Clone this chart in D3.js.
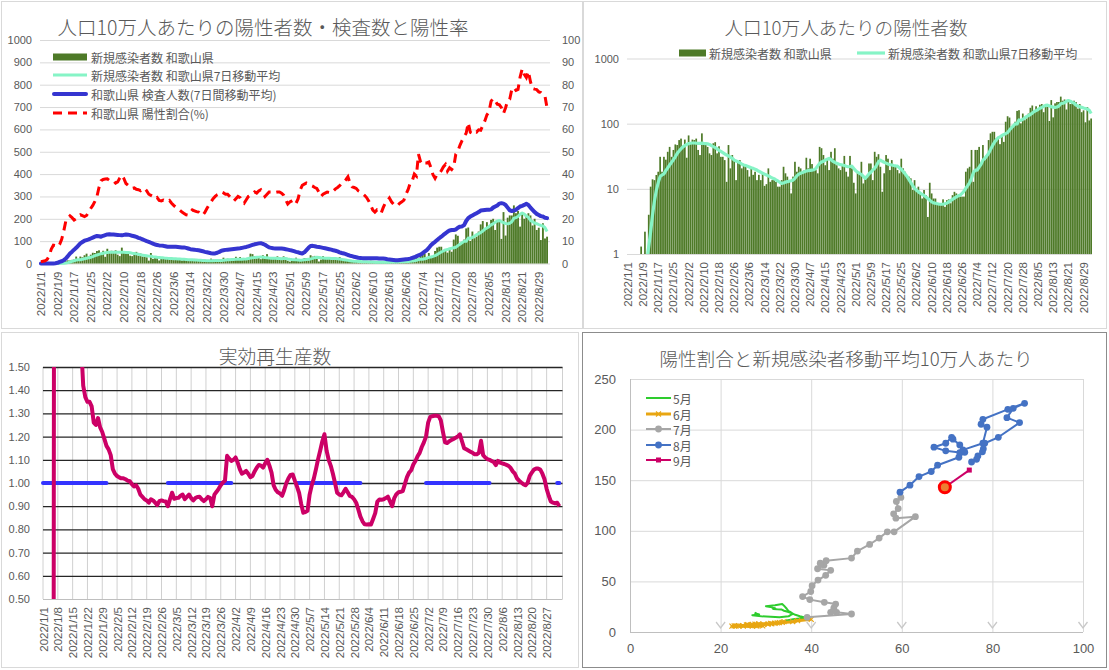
<!DOCTYPE html>
<html><head><meta charset="utf-8">
<script src="https://cdn.jsdelivr.net/npm/d3@7"></script>
<style>
html,body{margin:0;padding:0;background:#fff;}
svg{display:block;}
</style></head>
<body>
<svg id="chart" width="1109" height="670"></svg>
<script>
// ---------------- DATA ----------------
const startLabel = "2022/1/1";
// new cases per 100k (daily)
const newCases = [
 0,0,0,0,0,0,0,1.3,0,2.2,0,4.0,10.8,14,13.6,16.3,18.3,31,18.3,31,28,37,44,31,39.5,48,47,56,59,45,57,
 30,66,52,57,56,59,39.5,33,71,52,50,44,35,33,50,52,35,45,31,31,27.6,12.8,47,20.6,33,27,13.6,26,
 27.6,20.6,24,21.8,19.4,15.4,20.6,16.4,18.3,13.6,16.4,13.6,17.3,11.1,11.8,20.6,12.8,13.6,14.5,12.8,10.8,10.8,13.6,21.8,17.3,15.4,12.8,8.5,15.4,26,18.3,
 21.8,20.6,17.3,19.4,30,20.6,29,24,19.4,19.4,17.3,44,42,33,23,29,19.4,37,29,42,23,20.6,19.4,22.4,32,18.3,15.4,32,20.6,12.4,
 8.5,17.7,17.3,26,12.1,14.5,15.4,24.5,24.5,13.6,37,31,34,21.8,9.0,17.3,33,29,19.4,27.6,21.8,21.8,19.4,17.3,29,20.6,18.3,15.4,15.4,14.5,9.6,
 13.6,9.6,10.8,8.5,7.1,9.6,8.0,3.7,12.4,8.5,7.1,7.1,6.0,6.0,5.6,6.9,5.3,6.7,6.9,6.0,8.0,9.0,8.5,8.0,7.6,7.6,7.6,18.3,20.6,21.8,
 39.5,12.8,39.5,39.5,44,23,47,27.6,33,56,71,75,75,59,59,48.5,67,52.5,107,130,124,90,95,107,157,161,101,143,113,120,143,
 175,190,150,185,160,195,200,150,190,195,110,230,125,205,215,215,260,225,235,165,225,200,210,225,215,170,200,150,160,105,180,
 112,120
];
// 7-day moving average of new cases per 100k
const avg7 = [
 0,0,0,0,0,0,0,0.2,0.2,0.5,0.8,1.3,2.2,4.0,6.5,9.5,12.5,15.5,16.3,17,19,21,23.2,25.5,28,31,35,38,41,44,46,
 48,49.5,50,50.5,50.5,50.2,50,50,50.2,49.8,49.5,49,48,46,44.5,43,41,39,37.5,36,34.5,33,32,30.5,29.5,27.6,26.8,26,
 25.2,24,23.2,22.8,22.2,21.6,21,20.6,20,19.4,18.6,18,17.3,16.8,16.3,15.8,15.2,14.7,14.3,13.7,13.2,12.6,12.1,12.3,12.7,12.9,13.1,13.3,13.6,14.5,15.8,
 16.8,17.3,17.8,18.3,18.8,19,19.2,19.4,19.6,20.5,22.5,24.6,25.8,26.5,27.5,28.5,29.3,28,26.5,25.5,24.6,24,23.5,23.2,22.8,22.2,21.8,22,22.3,20.5,
 19,18,17.3,16.6,15.5,14.5,15.5,17,18,19.5,20.6,23,26,27.6,26.5,25.5,24.8,24,23.5,23.2,22.8,22.5,22.3,21,20,18.5,17,15.5,14,12.5,11.2,
 10.2,9.5,9.0,8.6,8.2,7.9,7.5,7.1,6.7,6.3,6.1,6.0,5.9,5.8,5.8,5.8,5.9,6.0,6.3,6.6,6.9,7.2,7.5,7.8,8.0,8.5,9.2,10.2,11.2,12.5,
 14.5,17.8,19.4,19.4,21.5,23.7,27.6,29.3,32,35,40,45.7,51.3,56,60.9,62.5,66,68,70.5,73,80,86.5,92.8,99,99,114,112.5,116.8,122,129,133,
 138.2,145.1,153.6,158.6,164.8,172.7,177.6,184.9,190.5,192.4,186.5,182.6,179,177.3,180,186.5,202.3,205.3,210.2,220,226,221,211.8,206.9,192.4,186.5,181,178,174,170.6,168,
 160,143
];
// tests per 100k (7-day moving average)
const tests7 = [
 0,0,0,0,0,0,0,1,3,7,10,15,22,33,45,53,62,70,80,90,96,102,105,108,112,116,120,123,122,120,124,
 127,130,131,130,130,129,128,127,126,128,130,129,127,124,122,119,115,112,108,104,100,97,93,89,85,83,81,80,
 79,77,75,75,75,75,75,74,73,72,72,70,67,64,63,62,60,59,57,55,52,50,48,46,45,45,48,52,57,59,61,
 62,63,64,65,66,67,68,70,72,74,77,80,83,86,88,90,91,88,84,78,72,70,68,67,67,67,67,66,64,62,
 60,58,55,52,50,47,45,50,60,70,78,79,77,75,74,72,70,68,66,64,62,59,57,54,50,47,45,42,38,35,33,
 30,28,26,25,24,24,24,24,24,24,23,23,22,22,22,21,19,18,17,16,15,15,16,17,18,19,20,22,25,28,
 32,36,40,46,53,60,70,82,90,97,105,113,120,128,135,142,148,150,150,152,160,165,166,172,190,203,210,215,220,225,230,
 237,238,239,240,240,242,250,255,260,268,270,268,262,250,238,235,237,240,248,255,258,262,267,262,250,240,230,222,217,212,210,
 205,203
];
// positivity rate (%)
const posRate = [
 0.8,1.0,1.2,1.8,3.5,6.5,8.2,8.0,7.4,8.5,10.8,14.5,19.0,20.2,21.3,20.5,19.4,20.0,21.2,21.8,21.4,21.0,21.5,23.0,24.6,26.0,27.8,30.0,34.0,37.0,37.6,
 37.8,37.9,37.2,36.8,37.0,36.0,36.5,38.2,39.5,38.0,35.8,35.0,34.5,33.6,33.8,33.2,33.0,32.6,33.4,33.6,32.5,31.0,30.5,30.0,29.0,29.5,28.2,28.0,
 28.4,28.0,27.6,28.2,27.0,26.0,25.2,24.6,23.8,23.0,22.4,21.8,21.6,22.8,24.0,23.6,23.2,23.0,22.0,21.6,22.8,24.6,26.2,27.6,29.0,30.0,30.8,31.2,32.0,31.6,31.0,
 31,30,29,28,29,30,29.5,28,27,28.5,30,30.6,31,32,31.5,32.5,33,31.5,30,31,32,32,32.2,31.8,32,32,31.5,30.6,28.5,26.6,
 27.5,28,28.5,27,29,33,35,35.5,36,35.5,35,34.6,34,33.6,32,30,31,31.5,32,31.8,31.6,32.5,33.4,34,34.8,35.8,36.5,37.5,38.8,36,34.3,
 34,33.6,32.5,32,31.3,30.5,29.5,28,26,23.9,23,24,23.4,22.5,25,27,28,29.3,27.6,26.5,25.7,26,27,27.6,28.4,31,33,35.9,37,40,
 39.1,48.9,45.6,44.3,45,45,45.4,42.9,39.7,38.1,39.9,40.2,41.5,43.2,44.3,41.4,42.8,42,43.3,48.9,50.2,52.9,55,56.8,58.3,63,58.7,58.2,59.2,58.8,59.8,
 59.6,61.8,63.8,66.5,67.9,72.6,73.9,72.8,71.3,71,69.7,67.1,69.7,72.8,73.5,77.9,78.8,77.5,77.9,83.4,87.1,84.6,83.2,86,81.3,78.3,78,77.8,76.8,76.5,75.4,
 74.9,69.5
];
// effective reproduction number
const rt = [
 0,0,0,0,0,0,9.0,7.5,6.0,4.8,4.0,3.4,3.0,2.6,2.3,2.05,1.85,1.7,1.6,1.42,1.37,1.35,1.35,1.33,1.26,1.25,1.28,1.24,1.22,1.19,1.16,
 1.145,1.12,1.06,1.04,1.03,1.024,1.02,1.02,1.016,1.01,1.008,0.995,0.985,0.99,0.975,0.95,0.94,0.93,0.925,0.915,0.93,0.925,0.915,0.905,0.922,0.925,0.922,0.92,
 0.9,0.93,0.958,0.932,0.935,0.936,0.945,0.95,0.93,0.94,0.95,0.935,0.925,0.935,0.94,0.941,0.93,0.922,0.93,0.94,0.935,0.9,0.95,0.962,0.975,0.99,1.002,1.01,1.117,1.105,1.095,
 1.1,1.11,1.088,1.06,1.04,1.045,1.052,1.04,1.025,1.03,1.05,1.066,1.078,1.075,1.066,1.085,1.1,1.075,1.045,0.99,0.97,0.96,0.955,0.945,0.97,1.0,1.02,1.035,1.037,1.01,
 0.985,0.958,0.91,0.872,0.875,0.88,0.95,0.99,1.02,1.06,1.103,1.14,1.18,1.21,1.14,1.1,1.074,1.04,1.0,0.958,0.95,0.947,0.96,0.975,0.96,0.944,0.94,0.93,0.915,0.886,0.855,
 0.835,0.822,0.821,0.822,0.821,0.845,0.87,0.92,0.929,0.928,0.93,0.935,0.941,0.92,0.9,0.935,0.952,0.96,0.962,0.965,0.995,1.025,1.045,1.055,1.08,1.095,1.115,1.13,1.155,1.175,
 1.2,1.26,1.285,1.288,1.29,1.29,1.288,1.27,1.22,1.175,1.172,1.18,1.185,1.19,1.195,1.2,1.21,1.18,1.15,1.145,1.14,1.135,1.13,1.124,1.124,1.13,1.182,1.12,1.11,1.103,1.1,
 1.095,1.09,1.077,1.095,1.088,1.085,1.082,1.078,1.074,1.065,1.05,1.04,1.02,1.01,1.002,0.995,0.99,1.0,1.03,1.045,1.058,1.062,1.062,1.058,1.04,1.016,0.975,0.945,0.92,0.915,0.912,
 0.915,0.9
];
// tick labels
const ticks8 = ["2022/1/1","2022/1/9","2022/1/17","2022/1/25","2022/2/2","2022/2/10","2022/2/18","2022/2/26","2022/3/6","2022/3/14","2022/3/22","2022/3/30","2022/4/7","2022/4/15","2022/4/23","2022/5/1","2022/5/9","2022/5/17","2022/5/25","2022/6/2","2022/6/10","2022/6/18","2022/6/26","2022/7/4","2022/7/12","2022/7/20","2022/7/28","2022/8/5","2022/8/13","2022/8/21","2022/8/29"];
const ticks7 = ["2022/1/1","2022/1/8","2022/1/15","2022/1/22","2022/1/29","2022/2/5","2022/2/12","2022/2/19","2022/2/26","2022/3/5","2022/3/12","2022/3/19","2022/3/26","2022/4/2","2022/4/9","2022/4/16","2022/4/23","2022/4/30","2022/5/7","2022/5/14","2022/5/21","2022/5/28","2022/6/4","2022/6/11","2022/6/18","2022/6/25","2022/7/2","2022/7/9","2022/7/16","2022/7/23","2022/7/30","2022/8/6","2022/8/13","2022/8/20","2022/8/27"];
const leftTicks1 = [0,100,200,300,400,500,600,700,800,900,1000];
const rightTicks1 = [0,10,20,30,40,50,60,70,80,90,100];
const logTicks = [1,10,100,1000];
const rtTicks = [0.5,0.6,0.7,0.8,0.9,1.0,1.1,1.2,1.3,1.4,1.5];
const scatterXTicks = [0,20,40,60,80,100];
const scatterYTicks = [0,50,100,150,200,250];
// reference line at Rt = 1 (odd months)
const refStarts = ["2022/1/1","2022/3/1","2022/5/1","2022/7/1","2022/9/1"];
const refEnds = ["2022/1/31","2022/3/31","2022/5/31","2022/7/31","2022/9/2"];
const refValue = 1.0;
// scatter months
const monthNames = ["5月","6月","7月","8月","9月"];
const monthStarts = ["2022/5/1","2022/6/1","2022/7/1","2022/8/1","2022/9/1"];
const monthEnds = ["2022/5/31","2022/6/30","2022/7/31","2022/8/31","2022/9/2"];
const monthColors = ["#2ecc2e","#e8a612","#a6a6a6","#4472c4","#cc0066"];
const monthMarkers = ["none","cross","circle","circle","square"];
const titles = ["人口10万人あたりの陽性者数・検査数と陽性率","人口10万人あたりの陽性者数","実効再生産数","陽性割合と新規感染者移動平均10万人あたり"];
const legend1 = ["新規感染者数 和歌山県","新規感染者数 和歌山県7日移動平均","和歌山県 検査人数(7日間移動平均)","和歌山県 陽性割合(%)"];

// ---------------- DRAW ----------------
const svg = d3.select("#chart");
const parse = d3.timeParse("%Y/%m/%d");
const t0 = parse(startLabel);
const dayOf = s => d3.timeDay.count(t0, parse(s));
const N = newCases.length;
const idx = d3.range(N);
const TXT = "#595959";
const JP = "'Noto Sans CJK JP','Noto Sans',sans-serif";
const NUM = "'Liberation Sans',Arial,sans-serif";
const BAR = "#4e7a28", AQUA = "#86f4c6", BLUE = "#3535d0", RED = "#ff0000", MAG = "#cc0066";

function frame(x,y,w,h,stroke){
  svg.append("rect").attr("x",x).attr("y",y).attr("width",w).attr("height",h)
    .attr("fill","#fff").attr("stroke",stroke).attr("stroke-width",1);
}
function title(x,y,t,size){
  svg.append("text").attr("x",x).attr("y",y).attr("text-anchor","middle")
    .attr("dominant-baseline","central").attr("font-family",JP).attr("font-size",size)
    .attr("font-weight",300).attr("fill",TXT).text(t);
}
function styleAxis(g,fs){
  g.select(".domain").remove();
  g.selectAll(".tick text").attr("font-family",NUM).attr("font-size",fs).attr("fill",TXT);
}
function rotLabels(g){
  g.selectAll(".tick text").attr("transform","rotate(-90)").attr("text-anchor","end")
    .attr("x",-8).attr("y",0).attr("dy","0.35em");
}
function legText(x,y,t,fs){
  svg.append("text").attr("x",x).attr("y",y).attr("dominant-baseline","central")
    .attr("font-family",JP).attr("font-size",fs).attr("fill",TXT).text(t);
}

// ===== Panel 1 =====
frame(1.5,1.5,581,327,"#d9d9d9");
title(263,26,titles[0],19.5);
const x1 = d3.scaleBand().domain(idx).range([40,548]).paddingInner(0.1);
const c1 = i => x1(i) + x1.bandwidth()/2;
const y1 = d3.scaleLinear().domain([0,1000]).range([263.5,40]);
const y1r = d3.scaleLinear().domain([0,100]).range([263.5,40]);
{
  const gl = svg.append("g").attr("transform","translate(40,0)")
    .call(d3.axisLeft(y1).tickValues(leftTicks1).tickSize(-510).tickPadding(8).tickFormat(d3.format("d")));
  gl.selectAll(".tick line").attr("stroke","#d9d9d9");
  styleAxis(gl,11);
  const gr = svg.append("g").attr("transform","translate(550,0)")
    .call(d3.axisRight(y1r).tickValues(rightTicks1).tickSize(0).tickPadding(12).tickFormat(d3.format("d")));
  styleAxis(gr,11);
  const gx = svg.append("g").attr("transform","translate(0,263.5)")
    .call(d3.axisBottom(x1).tickValues(ticks8.map(dayOf)).tickSize(0).tickFormat((d,i)=>ticks8[i]));
  styleAxis(gx,11.5); rotLabels(gx);
  svg.append("g").selectAll("rect").data(idx.filter(i=>newCases[i]>0)).join("rect")
    .attr("x",i=>x1(i)).attr("width",x1.bandwidth())
    .attr("y",i=>y1(newCases[i])).attr("height",i=>y1(0)-y1(newCases[i])).attr("fill",BAR);
  svg.append("path").datum(idx).attr("fill","none").attr("stroke",AQUA).attr("stroke-width",3)
    .attr("stroke-linejoin","round").attr("d",d3.line().x(c1).y(i=>y1(avg7[i])));
  svg.append("path").datum(idx).attr("fill","none").attr("stroke",BLUE).attr("stroke-width",4)
    .attr("stroke-linejoin","round").attr("stroke-linecap","round").attr("d",d3.line().x(c1).y(i=>y1(tests7[i])));
  svg.append("path").datum(idx).attr("fill","none").attr("stroke",RED).attr("stroke-width",3)
    .attr("stroke-dasharray","9,6").attr("d",d3.line().x(c1).y(i=>y1r(posRate[i])));
  // legend
  const ly = [57,75,94,113];
  svg.append("rect").attr("x",53).attr("y",ly[0]-3.5).attr("width",34).attr("height",7).attr("fill",BAR);
  svg.append("line").attr("x1",53).attr("x2",87).attr("y1",ly[1]).attr("y2",ly[1]).attr("stroke",AQUA).attr("stroke-width",3);
  svg.append("line").attr("x1",54).attr("x2",86).attr("y1",ly[2]).attr("y2",ly[2]).attr("stroke",BLUE).attr("stroke-width",4).attr("stroke-linecap","round");
  svg.append("line").attr("x1",53).attr("x2",87).attr("y1",ly[3]).attr("y2",ly[3]).attr("stroke",RED).attr("stroke-width",3).attr("stroke-dasharray","9,6");
  legend1.forEach((t,k)=>legText(91,ly[k],t,12));
}

// ===== Panel 2 =====
frame(583.5,1.5,523,327,"#d9d9d9");
title(846,26,titles[1],18.6);
const x2 = d3.scaleBand().domain(idx).range([627,1092]).paddingInner(0.1);
const c2 = i => x2(i) + x2.bandwidth()/2;
const y2 = d3.scaleLog().domain([1,1000]).range([254,58.5]);
{
  const gl = svg.append("g").attr("transform","translate(627,0)")
    .call(d3.axisLeft(y2).tickValues(logTicks).tickSize(-465).tickPadding(8).tickFormat(d3.format("d")));
  gl.selectAll(".tick line").attr("stroke","#d9d9d9");
  styleAxis(gl,11);
  const gx = svg.append("g").attr("transform","translate(0,254)")
    .call(d3.axisBottom(x2).tickValues(ticks8.map(dayOf)).tickSize(0).tickFormat((d,i)=>ticks8[i]));
  styleAxis(gx,11.5); rotLabels(gx);
  svg.append("g").selectAll("rect").data(idx.filter(i=>newCases[i]>=1)).join("rect")
    .attr("x",i=>x2(i)).attr("width",x2.bandwidth())
    .attr("y",i=>y2(newCases[i])).attr("height",i=>y2(1)-y2(newCases[i])).attr("fill",BAR);
  svg.append("clipPath").attr("id","clip2").append("rect").attr("x",627).attr("y",50).attr("width",466).attr("height",204);
  svg.append("path").datum(idx).attr("clip-path","url(#clip2)").attr("fill","none").attr("stroke",AQUA)
    .attr("stroke-width",3.2).attr("stroke-linejoin","round")
    .attr("d",d3.line().defined(i=>avg7[i]>0).x(c2).y(i=>y2(avg7[i])));
  svg.append("rect").attr("x",679).attr("y",53-3.5).attr("width",27).attr("height",7).attr("fill",BAR);
  legText(709,53,legend1[0],12);
  svg.append("line").attr("x1",857).attr("x2",885).attr("y1",53).attr("y2",53).attr("stroke",AQUA).attr("stroke-width",3.2);
  legText(888,53,legend1[1],12);
}

// ===== Panel 3 =====
frame(1.5,332.5,577,335,"#d9d9d9");
title(275,355,titles[2],18.8);
const x3 = d3.scaleLinear().domain([0,245.5]).range([43,562.5]);
const y3 = d3.scaleLinear().domain([0.5,1.5]).range([599,367]);
{
  const tv = ticks7.map(dayOf);
  svg.append("g").selectAll("line").data(tv.concat([245.5])).join("line")
    .attr("x1",d=>x3(d)).attr("x2",d=>x3(d)).attr("y1",367).attr("y2",599)
    .attr("stroke","#d0d0d0").attr("stroke-width",1);
  const gl = svg.append("g").attr("transform","translate(43,0)")
    .call(d3.axisLeft(y3).tickValues(rtTicks).tickSize(-519.5).tickPadding(13).tickFormat(d3.format(".2f")));
  gl.selectAll(".tick line").attr("stroke",d=>d<0.55?"#bfbfbf":"#262626").attr("stroke-width",d=>d<0.55?1:1.3);
  styleAxis(gl,11);
  const gx = svg.append("g").attr("transform","translate(0,599)")
    .call(d3.axisBottom(x3).tickValues(tv).tickSize(0).tickFormat((d,i)=>ticks7[i]));
  styleAxis(gx,11.5); rotLabels(gx);
  // reference segments at 1.0
  svg.append("g").selectAll("line").data(refStarts.map((s,k)=>[dayOf(s),dayOf(refEnds[k])])).join("line")
    .attr("x1",d=>x3(d[0])).attr("x2",d=>x3(d[1])).attr("y1",y3(refValue)).attr("y2",y3(refValue))
    .attr("stroke","#3333ff").attr("stroke-width",4).attr("stroke-linecap","round");
  svg.append("clipPath").attr("id","clip3").append("rect").attr("x",43).attr("y",367).attr("width",519.5).attr("height",232);
  svg.append("path").datum(idx).attr("clip-path","url(#clip3)").attr("fill","none").attr("stroke",MAG)
    .attr("stroke-width",4).attr("stroke-linejoin","round")
    .attr("d",d3.line().x(i=>x3(i)).y(i=>y3(rt[i])));
}

// ===== Panel 4 =====
frame(582.5,332.5,524,335,"#8c8c8c");
title(846,357,titles[3],18.6);
const x4 = d3.scaleLinear().domain([0,100]).range([630,1083]);
const y4 = d3.scaleLinear().domain([0,250]).range([632,379]);
{
  const gy = svg.append("g").attr("transform","translate(630,0)")
    .call(d3.axisLeft(y4).tickValues(scatterYTicks).tickSize(-453).tickPadding(14).tickFormat(d3.format("d")));
  gy.selectAll(".tick line").attr("stroke",d=>d===0?"#bfbfbf":"#d9d9d9");
  styleAxis(gy,13);
  const gx = svg.append("g").attr("transform","translate(0,632)")
    .call(d3.axisBottom(x4).tickValues(scatterXTicks).tickSize(-253).tickPadding(12).tickFormat(d3.format("d")));
  gx.selectAll(".tick line").attr("stroke",d=>d===0?"#bfbfbf":"#d9d9d9");
  styleAxis(gx,13);
  // small arrow heads at the foot of vertical grid lines
  svg.append("g").selectAll("path").data(scatterXTicks.filter(d=>d>0)).join("path")
    .attr("d",d=>`M${x4(d)-4.5},${y4(0)-10}L${x4(d)},${y4(0)-4}L${x4(d)+4.5},${y4(0)-10}`)
    .attr("fill","none").attr("stroke","#c8c8c8").attr("stroke-width",1.3);
  const series = monthNames.map((m,k)=>{
    const a = dayOf(monthStarts[k]), b = dayOf(monthEnds[k]);
    return d3.range(a,b+1).filter(i=>i<N).map(i=>[posRate[i],avg7[i]]);
  });
  const ln = d3.line().x(d=>x4(d[0])).y(d=>y4(d[1]));
  function marker(g,type,color,x,y){
    if(type==="circle") g.append("circle").attr("cx",x).attr("cy",y).attr("r",3.4).attr("fill",color);
    else if(type==="square") g.append("rect").attr("x",x-2.5).attr("y",y-2.5).attr("width",5).attr("height",5).attr("fill",color);
    else if(type==="cross") g.append("path").attr("d",`M${x-2.5},${y-2.5}L${x+2.5},${y+2.5}M${x-2.5},${y+2.5}L${x+2.5},${y-2.5}`).attr("stroke",color).attr("stroke-width",1.2);
  }
  series.forEach((pts,k)=>{
    const g = svg.append("g");
    g.append("path").datum(pts).attr("fill","none").attr("stroke",monthColors[k])
      .attr("stroke-width",k===1?3:2).attr("stroke-linejoin","round").attr("d",ln);
    pts.forEach(p=>marker(g,monthMarkers[k],monthColors[k],x4(p[0]),y4(p[1])));
  });
  // highlight latest point
  const last = N-1;
  svg.append("circle").attr("cx",x4(posRate[last])).attr("cy",y4(avg7[last])).attr("r",5.5)
    .attr("fill","#ed7d31").attr("stroke","#ff0000").attr("stroke-width",3);
  // legend
  const ly = [398,414,429,445,460];
  monthNames.forEach((m,k)=>{
    const g = svg.append("g");
    g.append("line").attr("x1",646).attr("x2",671).attr("y1",ly[k]).attr("y2",ly[k])
      .attr("stroke",monthColors[k]).attr("stroke-width",k===1?3:2);
    marker(g,monthMarkers[k],monthColors[k],658.5,ly[k]);
    legText(673,ly[k],m,12);
  });
}
</script>
</body></html>
